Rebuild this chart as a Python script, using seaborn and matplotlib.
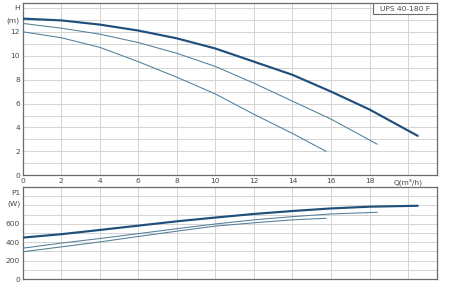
import matplotlib
matplotlib.use("Agg")
import matplotlib.pyplot as plt
import seaborn as sns
import pandas as pd
import numpy as np
from matplotlib.patches import Rectangle

# ---- data ----
q_max = [0, 2, 4, 6, 8, 10, 12, 14, 16, 18, 20.5]
h_max = [13.1, 12.95, 12.6, 12.1, 11.45, 10.6, 9.5, 8.4, 7.0, 5.5, 3.3]
p_max = [450, 487, 533, 580, 627, 668, 707, 739, 767, 786, 796]

q_mid = [0, 2, 4, 6, 8, 10, 12, 14, 16, 18.4]
h_mid = [12.7, 12.3, 11.8, 11.1, 10.2, 9.1, 7.7, 6.2, 4.7, 2.6]
p_mid = [335, 390, 440, 493, 547, 598, 643, 678, 707, 725]

q_min = [0, 2, 4, 6, 8, 10, 12, 14, 15.75]
h_min = [12.0, 11.5, 10.7, 9.5, 8.2, 6.8, 5.1, 3.5, 2.0]
p_min = [296, 349, 403, 462, 520, 575, 611, 643, 660]

x_tick_vals = [0, 2, 4, 6, 8, 10, 12, 14, 16, 18, 20]
x_tick_labels = ["0", "2", "4", "6", "8", "10", "12", "14", "16", "18", "Q(m³/h)"]
h_tick_vals = list(range(0, 15))
h_tick_labels = ["0", "", "2", "", "4", "", "6", "", "8", "", "10", "", "12", "(m)", "H"]
p_tick_vals = [0, 200, 400, 600]
p_tick_labels = ["0", "200", "400", "600"]
model_name = "UPS 40-180 F"

# ---- style ----
sns.set_style("white")
plt.rcParams['font.family'] = ['DejaVu Sans']
grid_c = "#d4d4d4"
spine_c = "#6a6a6a"
text_c = "#4a4a4a"
thick_c = "#1f4f7a"
thin_c = "#527e98"
fs = 5.4

fig = plt.figure(figsize=(4.5, 3.05), dpi=100)
ax1 = fig.add_axes([0.0504, 0.4252, 0.9207, 0.5648])
ax2 = fig.add_axes([0.0504, 0.0852, 0.9207, 0.3017])

curves = [
    (q_max, h_max, p_max, thick_c, 1.55),
    (q_mid, h_mid, p_mid, thin_c, 0.75),
    (q_min, h_min, p_min, thin_c, 0.75),
]
for q, h, p, c, lw in curves:
    df = pd.DataFrame({"Q": q, "H": h, "P": p})
    sns.lineplot(data=df, x="Q", y="H", ax=ax1, color=c, linewidth=lw,
                 sort=False, estimator=None, zorder=3)
    sns.lineplot(data=df, x="Q", y="P", ax=ax2, color=c, linewidth=lw,
                 sort=False, estimator=None, zorder=3)

# top axes
ax1.set_xlim(0, 21.5)
ax1.set_ylim(0, 14.4)
for v in x_tick_vals:
    ax1.axvline(v, color=grid_c, lw=0.7, zorder=0)
    ax2.axvline(v, color=grid_c, lw=0.7, zorder=0)
for v in range(1, 15):
    ax1.axhline(v, color=grid_c, lw=0.7, zorder=0)
ax1.set_xticks(x_tick_vals)
ax1.set_xticklabels(x_tick_labels)
ax1.set_yticks(h_tick_vals)
ax1.set_yticklabels(h_tick_labels)
ax1.tick_params(axis="both", length=0, labelsize=fs, colors=text_c, pad=2)
ax1.set_xlabel("")
ax1.set_ylabel("")

# model box
ax1.add_patch(Rectangle((0.846, 0.936), 0.154, 0.064, transform=ax1.transAxes,
                        facecolor="white", edgecolor=spine_c, lw=0.8, zorder=5))
ax1.text(0.923, 0.968, model_name, transform=ax1.transAxes, ha="center",
         va="center", fontsize=fs, color=text_c, zorder=6)

# bottom axes
ax2.set_xlim(0, 21.5)
ax2.set_ylim(0, 1000)
for v in range(100, 1000, 100):
    ax2.axhline(v, color=grid_c, lw=0.7, zorder=0)
ax2.set_xticks(x_tick_vals)
ax2.set_xticklabels([])
ax2.set_yticks(p_tick_vals)
ax2.set_yticklabels(p_tick_labels)
ax2.tick_params(axis="both", length=0, labelsize=fs, colors=text_c, pad=2)
ax2.set_xlabel("")
ax2.set_ylabel("")
ytr = ax2.get_yaxis_transform()
ax2.text(-0.005, 930, "P1", transform=ytr, ha="right", va="center",
         fontsize=fs, color=text_c)
ax2.text(-0.005, 820, "(W)", transform=ytr, ha="right", va="center",
         fontsize=fs, color=text_c)

for ax in (ax1, ax2):
    for s in ax.spines.values():
        s.set_color(spine_c)
        s.set_linewidth(0.9)
        s.set_visible(True)

fig.savefig("out.png", dpi=100, facecolor="white")
